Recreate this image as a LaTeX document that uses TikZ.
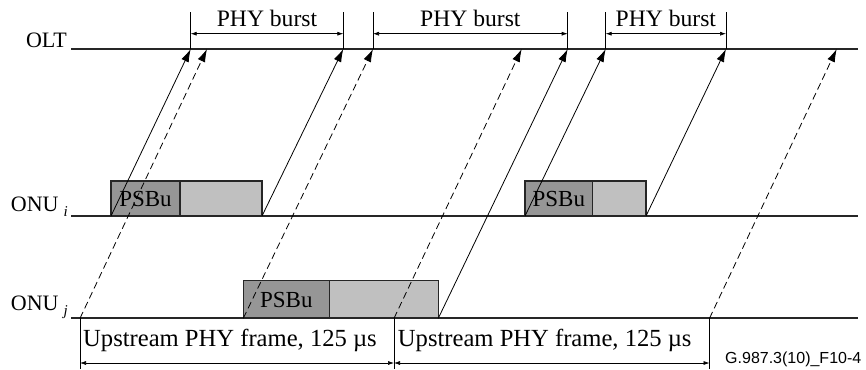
\documentclass[tikz,border=0pt]{standalone}
\usepackage{fontspec}
\setmainfont{Liberation Serif}
\newfontfamily\figfont{Liberation Sans}
\usetikzlibrary{arrows.meta,positioning}
\definecolor{psbugray}{RGB}{150,150,150}
\definecolor{datagray}{RGB}{192,192,192}

\begin{document}
\begin{tikzpicture}[x=1pt,y=-1pt,
    lbl/.style={inner sep=0pt,font=\fontsize{22}{24}\selectfont},
    psbu/.style={draw=black!85,line width=1.4pt,fill=psbugray,inner sep=0pt,outer sep=0pt,font=\fontsize{23}{25}\selectfont},
    payload/.style={draw=black!85,line width=1.4pt,fill=datagray,inner sep=0pt,outer sep=0pt},
    axis/.style={line width=1.8pt,black!85},
    sig/.style={line width=0.8pt,-{Latex[length=13pt,width=8pt]}},
    late/.style={sig,dash pattern=on 7pt off 4pt},
    tick/.style={line width=0.6pt},
    dim/.style={line width=0.6pt,{Latex[length=6pt,width=4pt]}-{Latex[length=6pt,width=4pt]}},
    burst/.style={midway,above=7pt,inner sep=0pt,font=\fontsize{23.6}{25}\selectfont},
    frame/.style={midway,anchor=base,yshift=17pt,xshift=-7pt,inner sep=0pt,font=\fontsize{24.6}{26}\selectfont}]

        \useasboundingbox (0,0) rectangle (866,369);

        \node (olt) at (67,48) [lbl,anchor=base east] {OLT};
        \node (onui) at (68,211.7) [lbl,anchor=base east] {ONU\hspace{5pt}\raisebox{-5pt}{\fontsize{15}{15}\selectfont\itshape i}};
        \node (onuj) at (68,310) [lbl,anchor=base east] {ONU\hspace{5pt}\raisebox{-5pt}{\fontsize{15}{15}\selectfont\itshape j}};

        \coordinate (oltL) at (71,49);
        \coordinate (oltR) at (858,49);
        \coordinate (onuiL) at (71,216);
        \coordinate (onuiR) at (858,216);
        \coordinate (onujL) at (71,318.3);
        \coordinate (onujR) at (858,318.3);

        \coordinate (f0) at (80,318.3);
        \coordinate (f1) at (394,318.3);
        \coordinate (f2) at (709.5,318.3);

        \coordinate (a1) at (190.7,49);
        \coordinate (a2) at (207,49);
        \coordinate (a3) at (343.3,49);
        \coordinate (a4) at (373,49);
        \coordinate (a5) at (521.7,49);
        \coordinate (a6) at (567.7,49);
        \coordinate (a7) at (605.7,49);
        \coordinate (a8) at (726,49);
        \coordinate (a9) at (836.7,49);

        \node (psbuA) at (145.5,198.5) [psbu,minimum width=69,minimum height=35] {PSBu};
        \node (dataA) [payload,right=0pt of psbuA,minimum width=82,minimum height=35] {};
        \node (psbuB) at (558.85,198.5) [psbu,minimum width=67.7,minimum height=35] {PSBu};
        \node (dataB) [payload,right=0pt of psbuB,minimum width=53.3,minimum height=35] {};
        \node (psbuJ) at (286.3,299.5) [psbu,minimum width=86,minimum height=37.6] {PSBu};
        \node (dataJ) [payload,right=0pt of psbuJ,minimum width=109,minimum height=37.6] {};

        \draw[axis] (oltL) -- (oltR);
        \draw[axis] (onuiL) -- (onuiR);
        \draw[axis] (onujL) -- (onujR);

        \draw[sig] (psbuA.south west) -- (a1);
        \draw[late] (f0) -- (a2);
        \draw[sig] (dataA.south east) -- (a3);
        \draw[late] (psbuJ.south west) -- (a4);
        \draw[late] (f1) -- (a5);
        \draw[sig] (dataJ.south east) -- (a6);
        \draw[sig] (psbuB.south west) -- (a7);
        \draw[sig] (dataB.south east) -- (a8);
        \draw[late] (f2) -- (a9);

        \foreach \a in {a1,a3,a4,a6,a7,a8}
            \draw[tick] (\a) -- ++(0,-37);
        \foreach \f in {f0,f1,f2}
            \draw[tick] (\f) -- ++(0,51);

        \draw[dim] ([yshift=15.3pt]a1) -- node[burst] {PHY burst} ([yshift=15.3pt]a3);
        \draw[dim] ([yshift=15.3pt]a4) -- node[burst] {PHY burst} ([yshift=15.3pt]a6);
        \draw[dim] ([yshift=15.3pt]a7) -- node[burst] {PHY burst} ([yshift=15.3pt]a8);

        \draw[dim] ([yshift=-44.7pt]f0) -- node[frame] {Upstream PHY frame, 125 µs} ([yshift=-44.7pt]f1);
        \draw[dim] ([yshift=-44.7pt]f1) -- node[frame] {Upstream PHY frame, 125 µs} ([yshift=-44.7pt]f2);

        \node (code) at (725,363.3) [anchor=base west,inner sep=0pt,font=\figfont\fontsize{16}{18}\selectfont] {G.987.3(10)\_F10-4};
    \end{tikzpicture}
\end{document}
